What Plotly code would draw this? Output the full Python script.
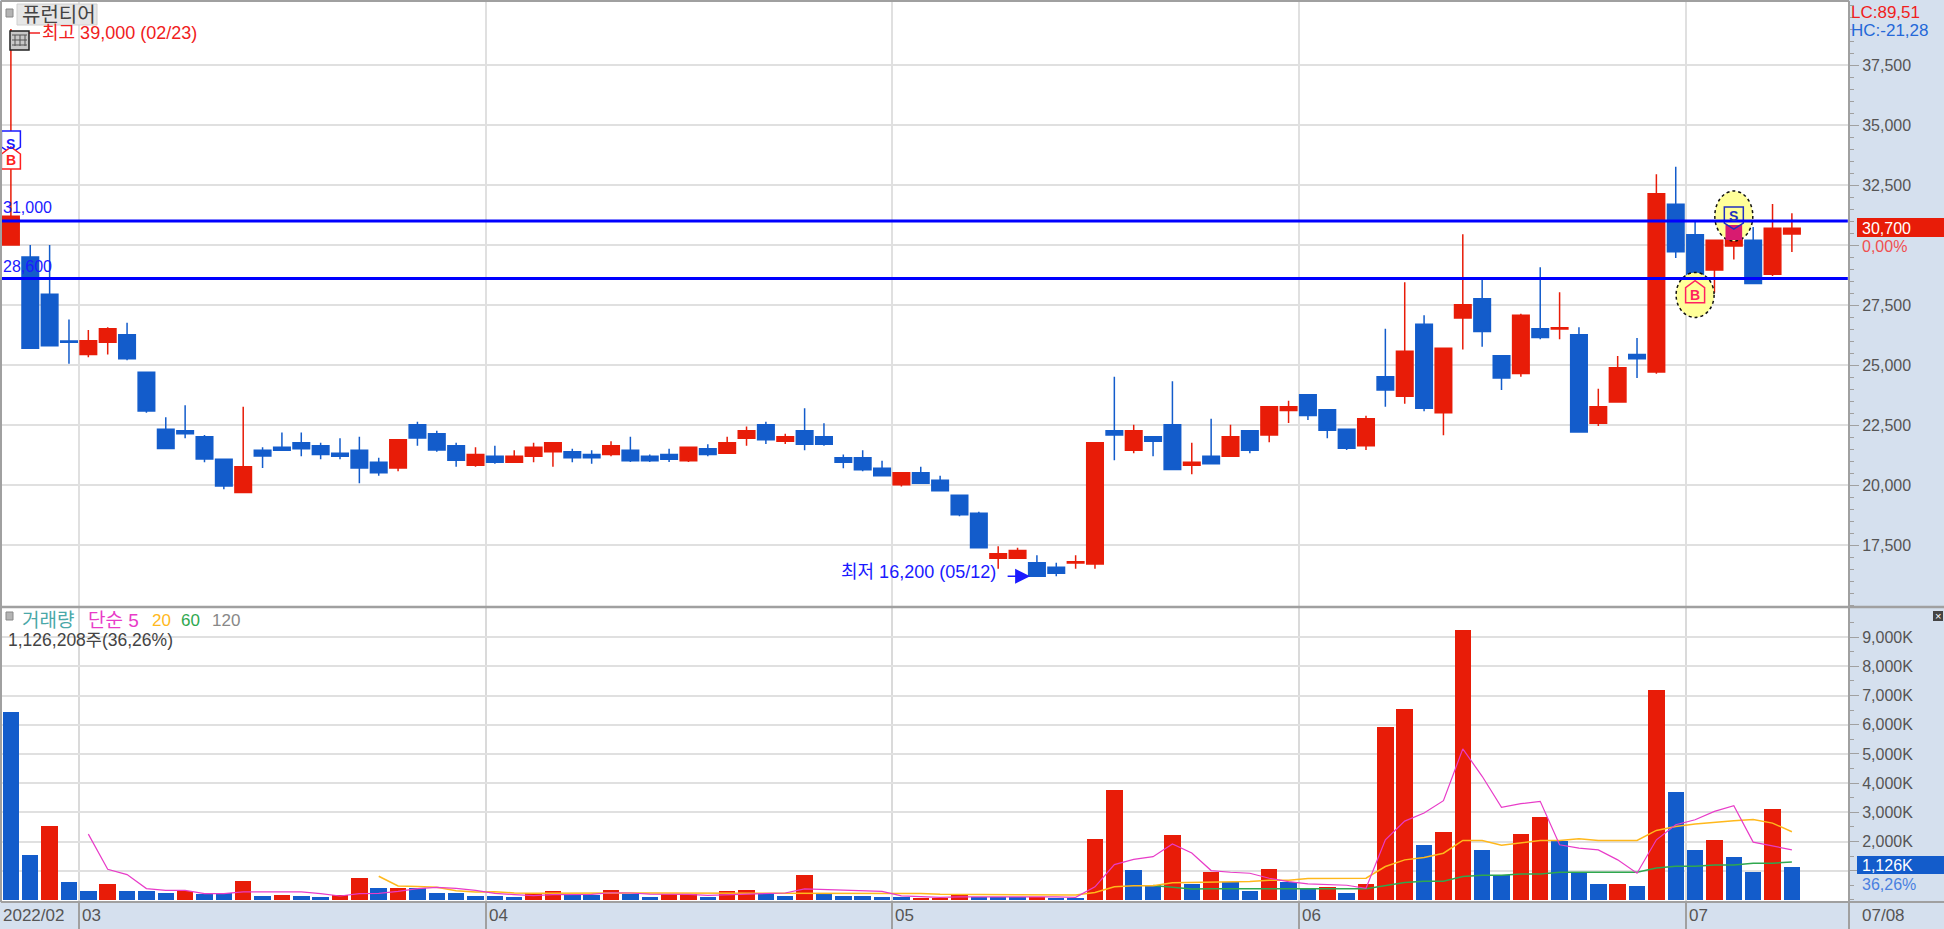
import plotly.graph_objects as go

# ---------- data ----------
opens = [30000,29500,27950,26000,25440,25950,26260,24700,22320,22260,22010,21070,19690,21450,21570,21760,21640,21320,21450,20950,20710,22510,22140,21640,20820,21200,20950,21200,21390,21390,21270,21270,21450,21200,21270,21010,21510,21320,21950,22510,21820,22260,22010,21140,21140,20700,20010,20510,20200,19570,18820,16950,16950,16760,16570,16750,16710,22260,21450,22010,22510,20820,21200,21200,22260,22080,23100,23760,23140,22320,21640,24510,23700,26700,23010,26960,27760,25390,24650,26510,26500,26260,22570,23460,25440,24710,31700,30430,28960,29960,30200,28780,30460]
highs = [39000,30000,30000,26900,26460,26570,26760,24700,22820,23320,22080,21070,23260,21570,22190,22190,21760,21950,22010,21140,21890,22640,22260,21760,21570,21640,21450,21760,21760,21510,21450,21820,22010,21270,21510,21570,21700,22010,22440,22640,22140,23200,22570,21270,21450,21010,20510,20760,20390,19570,18890,17450,17390,17070,16760,17070,21760,24510,22510,22010,24320,21760,22760,22510,22260,23260,23510,23760,23140,22320,22890,26510,28450,27070,25700,30450,28600,25390,27140,29070,28030,26570,24010,25375,26125,32950,33260,30970,30200,31000,30750,31710,31320]
lows = [30000,25700,25800,25050,25320,25440,25200,23010,21520,21950,20950,19820,19690,20710,21450,21200,21070,21070,20070,20390,20570,21640,21390,20760,20760,20890,20950,20950,20760,20950,20890,21200,20960,20960,20960,20960,21200,21320,21640,21710,21710,21450,21640,20700,20570,20390,19940,20070,19760,18700,17390,16510,16950,16200,16200,16510,16510,21030,21320,21200,20650,20450,20890,21200,21320,21780,22580,22710,21950,21460,21460,23260,23390,23070,22070,25650,25760,23960,24510,26070,26070,22210,22460,23460,24460,24640,29460,28400,28010,29400,28400,28710,29710]
closes = [31200,25700,25800,25950,26010,26510,25260,23080,21520,22140,21080,19960,20760,21210,21450,21510,21270,21200,20710,20510,21890,21960,21460,21030,21270,20950,21200,21570,21760,21140,21140,21640,21010,21010,21070,21570,21270,21760,22260,21890,22010,21700,21700,20950,20640,20390,20510,20070,19760,18760,17390,17140,17270,16200,16320,16800,21760,22080,22260,21820,20650,20950,20890,22010,21450,23260,23260,22900,22280,21530,22760,23960,25570,23200,25700,27510,26400,24460,27070,26150,26550,22210,23260,24890,25260,32140,29720,28610,30200,30830,28400,30700,30700]
volumes_k = [6436,1535,2520,608,300,550,300,300,250,320,195,230,653,137,183,137,92,160,767,400,400,400,250,250,137,137,92,229,309,172,172,355,206,92,206,210,92,309,355,206,149,870,206,149,148,92,115,69,70,172,115,110,105,115,46,45,2095,3755,1019,504,2210,561,973,607,298,1065,607,366,447,252,550,5920,6538,1900,2313,9263,1695,859,2256,2828,2004,962,550,555,492,7202,3698,1695,2050,1477,962,3126,1126]
volume_sides = "BBRBBRBBBRBBRBRBBRRBRBBBBBBRRBBRBBRRBRRBBRBBBBBRRRBBBRBBRRBBRBRBBRBBRBRRRBRRBBRRBBBRBRBBRBBRB"
ma5_start = 4
ma5 = [2256,1053,870,390,332,332,218,218,275,275,275,275,218,137,218,229,298,390,435,400,332,229,183,150,185,190,195,247,240,200,206,190,160,180,215,230,240,378,357,316,304,293,142,110,90,105,105,110,125,125,105,90,450,1211,1392,1484,1917,1610,1008,950,916,744,630,550,527,504,400,2061,2702,2977,3400,5175,4236,3171,3298,3378,1889,1775,1717,1374,916,2061,2576,2748,3034,3229,1981,1855,1717]
ma20_start = 19
ma20 = [813,480,458,435,320,275,280,240,230,235,235,235,240,235,235,235,230,230,230,225,222,220,245,245,230,225,228,226,225,195,195,190,180,175,172,172,170,260,450,485,490,590,600,610,630,630,680,680,740,740,740,744,1145,1374,1454,1603,2038,2038,1878,1946,2038,2038,2095,2038,2038,2038,2382,2519,2599,2668,2714,2759,2633,2336]
ma60_start = 59
ma60 = [492,447,380,385,389,389,389,389,389,389,389,389,504,595,641,641,801,847,847,893,893,950,950,950,950,950,1099,1156,1156,1202,1202,1260,1260,1305]

sessions = list(range(len(opens)))
month_first_session = [4, 25, 46, 67, 87]
month_labels = ["03", "04", "05", "06", "07"]
first_label = "2022/02"
last_label = "07/08"
price_ticks = [17500,20000,22500,25000,27500,30000,32500,35000,37500]
price_tick_text = ["17,500","20,000","22,500","25,000","27,500","","32,500","35,000","37,500"]
vol_ticks = [1000,2000,3000,4000,5000,6000,7000,8000,9000]
vol_tick_text = ["","2,000K","3,000K","4,000K","5,000K","6,000K","7,000K","8,000K","9,000K"]
level_high, level_low = 31000, 28600

# ---------- style ----------
W, H = 1944, 929
RED, BLUE = "#E81C08", "#135CCB"
GRID, EDGE, BAND = "#E0E0E0", "#A0A0A0", "#D5E0EE"
TXT = "#555555"
FONT = "Liberation Sans, Noto Sans CJK KR, sans-serif"
LEFT, RIGHT, TOP, MID, BOTTOM = 2, 1849, 1, 607, 902
XR = [-0.46, 94.95]

def px(x): return x / W
def py(y): return 1 - y / H

fig = go.Figure()
fig.add_trace(go.Candlestick(
    x=sessions, open=opens, high=highs, low=lows, close=closes,
    increasing=dict(line=dict(color=RED, width=1.5), fillcolor=RED),
    decreasing=dict(line=dict(color=BLUE, width=1.5), fillcolor=BLUE),
    whiskerwidth=0, xaxis="x", yaxis="y", hoverinfo="skip", showlegend=False))

fig.add_trace(go.Bar(
    x=sessions, y=volumes_k, width=0.85,
    marker=dict(color=[RED if s == "R" else BLUE for s in volume_sides], line=dict(width=0)),
    xaxis="x2", yaxis="y2", hoverinfo="skip", showlegend=False))
for start, vals, col, w in [(ma60_start, ma60, "#2FA84F", 1.5), (ma20_start, ma20, "#FFB81C", 1.5), (ma5_start, ma5, "#E83CC8", 1.2)]:
    fig.add_trace(go.Scatter(x=sessions[start:], y=vals, mode="lines", line=dict(color=col, width=w),
                             xaxis="x2", yaxis="y2", hoverinfo="skip", showlegend=False))

month_lines = [m - 0.48 for m in month_first_session]

shapes = []
def rect(x0, y0, x1, y1, fill, line=None, lw=1):
    shapes.append(dict(type="rect", xref="paper", yref="paper", x0=px(x0), x1=px(x1), y0=py(y0), y1=py(y1),
                       fillcolor=fill, line=dict(color=line or fill, width=lw if line else 0), layer="above"))
def seg(x0, y0, x1, y1, col, lw=1):
    shapes.append(dict(type="line", xref="paper", yref="paper", x0=px(x0), x1=px(x1), y0=py(y0), y1=py(y1),
                       line=dict(color=col, width=lw), layer="above"))

def ellipse(idx, val, rx, ry):
    shapes.append(dict(type="circle", xref="x", yref="y", xsizemode="pixel", ysizemode="pixel",
                       xanchor=idx, yanchor=val, x0=-rx, x1=rx, y0=-ry, y1=ry,
                       fillcolor="#FFFF99", line=dict(color="#111111", width=1.5, dash="dot"), layer="above"))

def pentagon(idx, val, col, fill, down):
    if down:
        path = "M -9.5 11 L 9.5 11 L 9.5 -5 L 0 -11 L -9.5 -5 Z"
    else:
        path = "M -9.5 -11 L 9.5 -11 L 9.5 4 L 0 11 L -9.5 4 Z"
    shapes.append(dict(type="path", xref="x", yref="y", xsizemode="pixel", ysizemode="pixel",
                       xanchor=idx, yanchor=val, path=path, fillcolor=fill,
                       line=dict(color=col, width=1.5), layer="above"))

# highlighted signals
ellipse(87, 27920, 19, 22.5)
ellipse(89, 31208, 19, 25)
shapes.append(dict(type="rect", xref="x", yref="y", x0=88.57, x1=89.43, y0=30208, y1=30833,
                   fillcolor="#D81B70", line=dict(width=0), layer="above"))
pentagon(0, 34290, "#1A1AFF", "white", True)
pentagon(0, 33625, "#FF2020", "white", False)
pentagon(87, 28054, "#FF2060", "rgba(0,0,0,0)", False)
pentagon(89, 31125, "#2030C0", "rgba(0,0,0,0)", True)

# support / resistance levels
for lv in (level_high, level_low):
    shapes.append(dict(type="line", xref="x", yref="y", x0=XR[0], x1=(1847 - 9.95) / 19.36, y0=lv, y1=lv,
                       line=dict(color="#0000FF", width=3), layer="above"))

# panel frame
seg(LEFT - 1, TOP, RIGHT, TOP, EDGE, 2)
seg(LEFT - 1, TOP, LEFT - 1, BOTTOM, EDGE, 2)
seg(LEFT - 1, MID, W, MID, EDGE, 2.5)
seg(LEFT - 1, BOTTOM, W, BOTTOM, EDGE, 2)
seg(RIGHT, TOP, RIGHT, H, EDGE, 2)

# top-left widgets
rect(6, 9, 13, 17, "#B4B4B4", "#888888", 1)
rect(17, 4, 97, 25, "#E6E6E6", "#D0D0D0", 1)
seg(29, 33, 40, 33, "#F02020", 1.5)
rect(10, 31, 29, 50, "#C8C8C8", "#222222", 1.5)
for gx in (15, 20, 25):
    seg(gx, 35, gx, 46, "#555555", 1)
for gy in (35, 40, 45):
    seg(12, gy, 27, gy, "#555555", 1)
rect(6, 612, 13, 620, "#B4B4B4", "#888888", 1)
# right-side tags
rect(1857, 218, W, 237, RED)
rect(1857, 856, W, 874, BLUE)
# close box of the lower panel
rect(1933, 611, 1943, 621, "#444444")

def label(x, y, text, col, size=16, anchor="left"):
    return dict(xref="paper", yref="paper", x=px(x), y=py(y), text=text, showarrow=False, xanchor=anchor,
                yanchor="middle", font=dict(color=col, size=size, family=FONT), borderpad=0, borderwidth=0)

ann = [
    label(22, 15, "퓨런티어", "#444444", 20),
    label(3, 207, "31,000", "#1A1AFF", 16),
    label(3, 266, "28,600", "#1A1AFF", 16),
    label(1851, 13, "LC:89,51", "#F02020", 17),
    label(1851, 31, "HC:-21,28", "#2468D8", 17),
    label(1862, 228, "30,700", "white", 16),
    label(1862, 246, "0,00%", "#F05050", 16),
    label(1862, 865, "1,126K", "white", 16),
    label(1862, 884, "36,26%", "#4A80E0", 16),
    label(22, 620, "거래량", "#4AA8A8", 19),
    label(88, 620, "단순 5", "#E83CC8", 19),
    label(152, 620, "20", "#FFB81C", 17),
    label(181, 620, "60", "#2FA84F", 17),
    label(212, 620, "120", "#888888", 17),
    label(8, 640, "1,126,208주(36,26%)", "#444444", 17.5),
    label(3, 915, first_label, TXT, 17),
    label(1862, 915, last_label, TXT, 17),
    label(1938, 616, "×", "white", 11, "center"),
]
for m, t in zip(month_lines, month_labels):
    ann.append(dict(xref="x2", yref="paper", x=m, y=py(915), text=t, showarrow=False, xanchor="left",
                    yanchor="middle", xshift=1, font=dict(color=TXT, size=17, family=FONT)))
# extreme labels
ann.append(dict(xref="x", yref="y", x=0, y=max(highs), text="최고 39,000 (02/23)", showarrow=False, xanchor="left",
                yanchor="middle", xshift=29, yshift=-4, font=dict(color="#F02020", size=18, family=FONT)))
ann.append(dict(xref="x", yref="y", x=53, y=min(lows), text="최저 16,200 (05/12)", showarrow=False, xanchor="right",
                yanchor="middle", xshift=-39, yshift=4, font=dict(color="#1A1AFF", size=18, family=FONT)))
ann.append(dict(xref="x", yref="y", x=52.65, y=min(lows), text="", showarrow=True, ax=-24, ay=0, arrowhead=2,
                arrowsize=2, arrowwidth=1.5, arrowcolor="#1A1AFF"))
ann.append(dict(xref="x", yref="y", x=0, y=34290, yshift=-2, text="<b>S</b>", showarrow=False, font=dict(color="#1A1AFF", size=14, family=FONT)))
ann.append(dict(xref="x", yref="y", x=0, y=33625, yshift=-2, text="<b>B</b>", showarrow=False, font=dict(color="#FF2020", size=14, family=FONT)))
ann.append(dict(xref="x", yref="y", x=87, y=28054, yshift=-3, text="<b>B</b>", showarrow=False, font=dict(color="#FF2060", size=14, family=FONT)))
ann.append(dict(xref="x", yref="y", x=89, y=31125, yshift=2, text="<b>S</b>", showarrow=False, font=dict(color="#2030C0", size=14, family=FONT)))

common_y = dict(side="right", showgrid=True, gridcolor=GRID, gridwidth=2, zeroline=False, showline=False,
                ticks="outside", ticklen=9, tickwidth=1, tickcolor=EDGE, tickfont=dict(color=TXT, size=16, family=FONT),
                fixedrange=True)
fig.update_layout(
    width=W, height=H, margin=dict(l=0, r=0, t=0, b=0), autosize=False,
    paper_bgcolor=BAND, plot_bgcolor="white", showlegend=False, dragmode=False, bargap=0,
    boxgap=0.05, boxgroupgap=0.1,
    xaxis=dict(domain=[px(LEFT), px(RIGHT)], range=XR, anchor="y", tickmode="array", tickvals=month_lines,
               showticklabels=False, ticks="", showgrid=True, gridcolor=GRID, gridwidth=2, zeroline=False,
               rangeslider=dict(visible=False), fixedrange=True),
    xaxis2=dict(domain=[px(LEFT), px(RIGHT)], range=XR, anchor="y2", tickmode="array", tickvals=month_lines,
                showticklabels=False, ticks="outside", ticklen=27, tickwidth=1.5, tickcolor=EDGE, showgrid=True,
                gridcolor="#DADADA", gridwidth=1.5, zeroline=False, fixedrange=True),
    yaxis=dict(domain=[py(MID), py(TOP)], range=[14917, 40167], tickmode="array", tickvals=price_ticks,
               ticktext=price_tick_text, minor=dict(dtick=500, tick0=0, ticks="outside", ticklen=4, tickwidth=1, tickcolor=EDGE, showgrid=False),
               anchor="x", **common_y),
    yaxis2=dict(domain=[py(BOTTOM), py(MID)], range=[-69, 10034], tickmode="array", tickvals=vol_ticks,
                ticktext=vol_tick_text, minor=dict(dtick=500, tick0=0, ticks="outside", ticklen=4, tickwidth=1, tickcolor=EDGE, showgrid=False),
                anchor="x2", **common_y),
    shapes=shapes, annotations=ann,
)

fig.write_html("out.html", config={"displayModeBar": False, "responsive": False},
               post_script="document.body.style.margin='0';document.documentElement.style.overflow='hidden';")
